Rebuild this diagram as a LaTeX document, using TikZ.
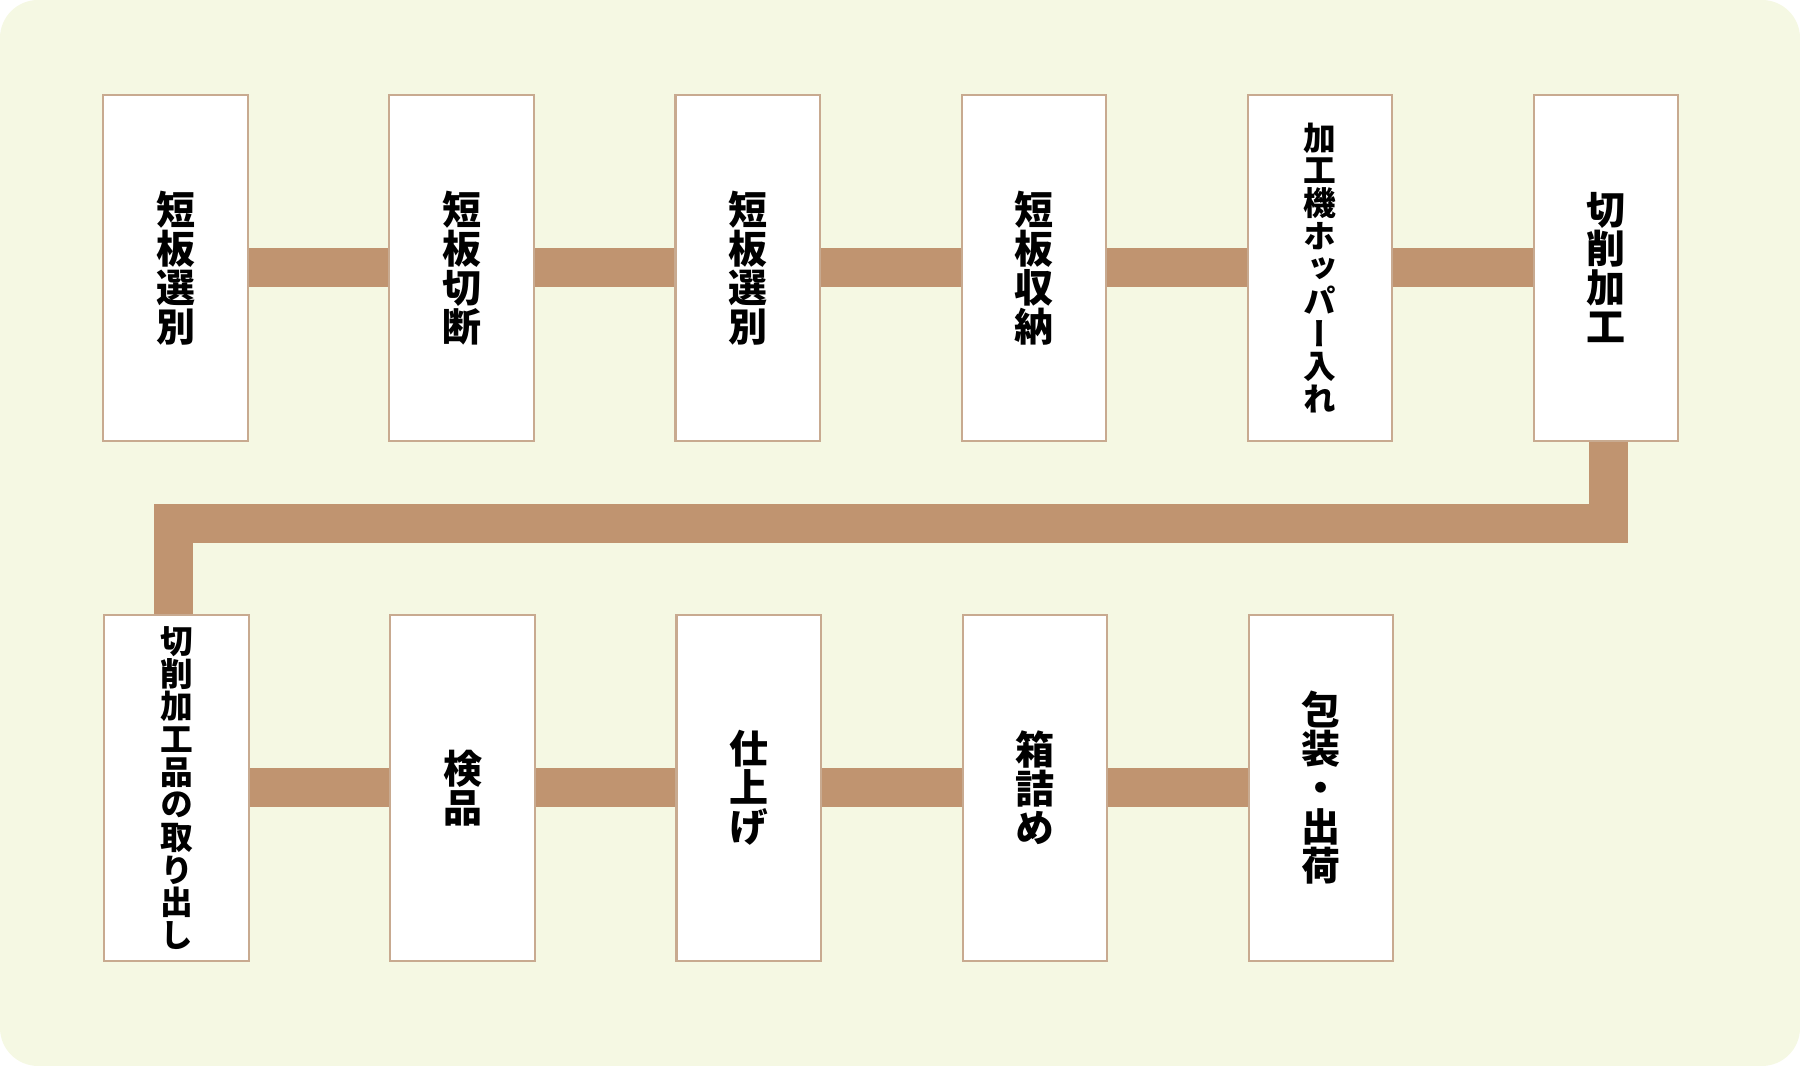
\documentclass[tikz,border=0pt]{standalone}
\usepackage{fontspec}
\newfontfamily\jp{Noto Sans CJK JP}[RawFeature=+vert]
\definecolor{bgcream}{HTML}{F5F8E3}
\definecolor{beltbrown}{HTML}{C09470}
\definecolor{boxline}{HTML}{C8AA90}
\begin{document}
\begin{tikzpicture}[line join=miter]

	\def \upper{7.98cm}
	\def \lower{2.78cm}
	\def \turn{5.425cm}
	\tikzstyle{p-box}=[draw=boxline,fill=white,line width=0.6pt,minimum width=1.446cm,minimum height=3.456cm,inner sep=0pt,align=center,font=\jp\bfseries\fontsize{11.1}{11.1}\selectfont]
	\tikzstyle{longtext}=[font=\jp\bfseries\fontsize{9.3}{9.3}\selectfont]
	\tikzstyle{belt}=[draw=beltbrown,line width=0.39cm]
	% background
	\useasboundingbox (0,0) rectangle (18,10.66);
	\fill[bgcream,rounded corners=0.38cm] (0,0) rectangle (18,10.66);

	% upper row
	\node[p-box] 	(u0)	at (1.756cm,\upper)		{短\\板\\選\\別};
	\node[p-box] 	(u1)	at (4.617cm,\upper)		{短\\板\\切\\断};
	\node[p-box] 	(u2)	at (7.478cm,\upper)		{短\\板\\選\\別};
	\node[p-box] 	(u3)	at (10.339cm,\upper)	{短\\板\\収\\納};
	\node[p-box,longtext] 	(u4)	at (13.2cm,\upper)	{加\\工\\機\\ホ\\ッ\\パ\\ー\\入\\れ};
	\node[p-box] 	(u5)	at (16.061cm,\upper)	{切\\削\\加\\工};

	% lower row
	\node[p-box,longtext] 	(l0)	at (1.766cm,\lower)	{切\\削\\加\\工\\品\\の\\取\\り\\出\\し};
	\node[p-box] 	(l1)	at (4.627cm,\lower)		{検\\品};
	\node[p-box] 	(l2)	at (7.488cm,\lower)		{仕\\上\\げ};
	\node[p-box] 	(l3)	at (10.349cm,\lower)	{箱\\詰\\め};
	\node[p-box] 	(l4)	at (13.21cm,\lower)		{包\\装\\・\\出\\荷};

	% belts
	\coordinate (bend) at (0,\turn);
	\draw[belt] (u0.east) -- (u1.west);
	\draw[belt] (u1.east) -- (u2.west);
	\draw[belt] (u2.east) -- (u3.west);
	\draw[belt] (u3.east) -- (u4.west);
	\draw[belt] (u4.east) -- (u5.west);
	\draw[belt] ([xshift=0.025cm]u5.south) -- ([xshift=0.025cm]u5.south |- bend) -- ([xshift=-0.035cm]l0.north |- bend) -- ([xshift=-0.035cm]l0.north);
	\draw[belt] (l0.east) -- (l1.west);
	\draw[belt] (l1.east) -- (l2.west);
	\draw[belt] (l2.east) -- (l3.west);
	\draw[belt] (l3.east) -- (l4.west);
	\end{tikzpicture}
\end{document}
